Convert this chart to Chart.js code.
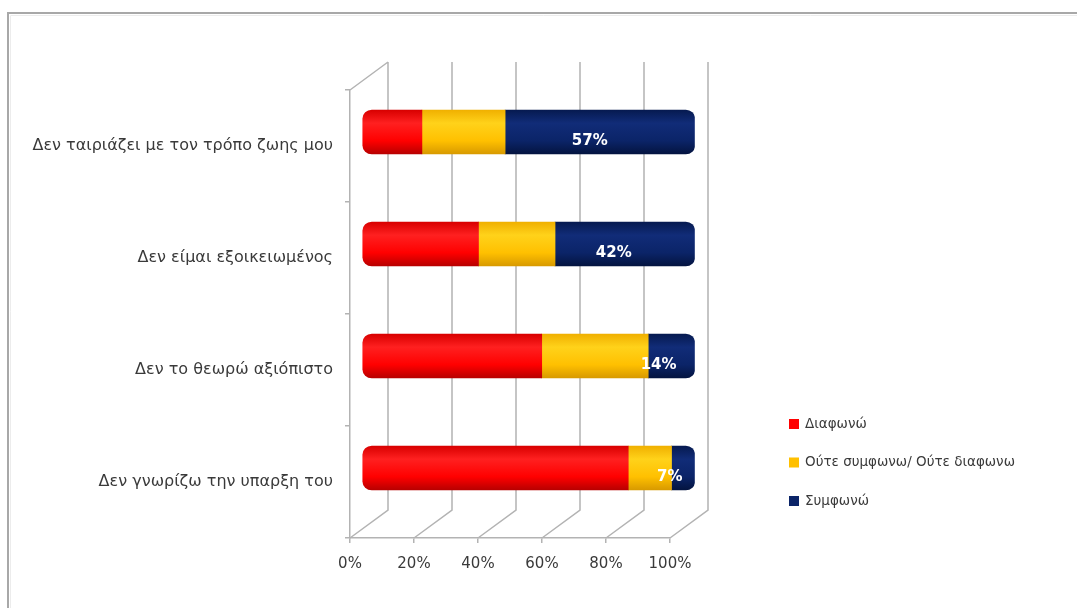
<!DOCTYPE html>
<html lang="el">
<head>
<meta charset="UTF-8">
<title>Chart</title>
<script src="https://cdn.jsdelivr.net/npm/chart.js@4.4.0/dist/chart.umd.min.js"></script>
<style>
    html, body { margin: 0; padding: 0; background: #fff; }
</style>
</head>
<body>
<canvas id="chart" width="1077" height="608"></canvas>
<script>
    // data (percent of respondents, each row sums to 100)
    var categories = ['Δεν ταιριάζει με τον τρόπο ζωης μου', 'Δεν είμαι εξοικειωμένος', 'Δεν το θεωρώ αξιόπιστο', 'Δεν γνωρίζω την υπαρξη του'];
    var seriesNames = ['Διαφωνώ', 'Ούτε συμφωνω/ Ούτε διαφωνω', 'Συμφωνώ'];
    var diafono = [18, 35, 54, 80];
    var oute = [25, 23, 32, 13];
    var symfono = [57, 42, 14, 7];
    var xTicks = [0, 20, 40, 60, 80, 100];

    var textColor = '#3a3a3a';
    var gridColor = '#b3b3b3';
    var fontFamily = '"DejaVu Sans", sans-serif';
    var depthX = 38, depthY = -28;
    var barHalf = 22;
    var stretch = 1.04;

    // vertical gradient so every bar looks like a cylinder
    function cylinder(c0, c1, c2, c3) {
        return function (c) {
            var chart = c.chart;
            var y = chart.scales.y;
            if (!y || c.dataIndex === undefined || !chart.chartArea) return c2;
            var mid = y.getPixelForValue(c.dataIndex);
            var g = chart.ctx.createLinearGradient(0, mid - barHalf, 0, mid + barHalf);
            g.addColorStop(0, c0);
            g.addColorStop(0.3, c1);
            g.addColorStop(0.7, c2);
            g.addColorStop(1, c3);
            return g;
        };
    }

    var colors = ['#ff0000', '#ffc000', '#0b2468'];

    var wallPlugin = {
        id: 'wall',
        beforeDraw: function (chart) {
            var ctx = chart.ctx;
            ctx.save();
            ctx.strokeStyle = '#a8a8a8';
            ctx.lineWidth = 2;
            ctx.beginPath();
            ctx.moveTo(8, 608);
            ctx.lineTo(8, 13);
            ctx.lineTo(1077, 13);
            ctx.stroke();
            ctx.strokeStyle = '#ececec';
            ctx.lineWidth = 1;
            ctx.beginPath();
            ctx.moveTo(10.5, 608);
            ctx.lineTo(10.5, 15.5);
            ctx.lineTo(1077, 15.5);
            ctx.stroke();
            ctx.restore();
        },
        beforeDatasetsDraw: function (chart) {
            var ctx = chart.ctx, a = chart.chartArea, x = chart.scales.x;
            ctx.save();
            ctx.strokeStyle = gridColor;
            ctx.lineWidth = 1.5;
            ctx.beginPath();
            xTicks.forEach(function (v) {
                var px = x.getPixelForValue(v);
                ctx.moveTo(px + depthX, a.top + depthY);
                ctx.lineTo(px + depthX, a.bottom + depthY);
                ctx.lineTo(px, a.bottom);
            });
            ctx.moveTo(a.left, a.top);
            ctx.lineTo(a.left + depthX, a.top + depthY);
            ctx.stroke();
            ctx.restore();
            // push the bars back to the middle of the depth
            ctx.save();
            ctx.translate(362 - a.left * stretch, depthY / 2);
            ctx.scale(stretch, 1);
        },
        afterDatasetsDraw: function (chart) {
            var ctx = chart.ctx;
            ctx.restore();
            var meta = chart.getDatasetMeta(2);
            ctx.save();
            ctx.fillStyle = '#ffffff';
            ctx.font = 'bold 15px ' + fontFamily;
            ctx.textAlign = 'center';
            ctx.textBaseline = 'middle';
            meta.data.forEach(function (el, i) {
                var cx = (el.x + el.base) / 2 + 11;
                ctx.fillText(symfono[i] + '%', cx, el.y - 5);
            });
            ctx.restore();
        },
        afterDraw: function (chart) {
            var ctx = chart.ctx;
            ctx.save();
            ctx.font = '13.5px ' + fontFamily;
            ctx.textBaseline = 'middle';
            ctx.textAlign = 'left';
            seriesNames.forEach(function (name, i) {
                var cy = 424 + i * 38.5;
                ctx.fillStyle = colors[i];
                ctx.fillRect(789, cy - 5, 10, 10);
                ctx.fillStyle = textColor;
                ctx.fillText(name, 805, cy);
            });
            ctx.restore();
        }
    };

    var common = { barThickness: 44, borderSkipped: false, borderWidth: 0 };

    new Chart('chart', {
        type: 'bar',
        data: {
            labels: categories,
            datasets: [
                Object.assign({
                    label: seriesNames[0], data: diafono,
                    backgroundColor: cylinder('#d80000', '#ff2020', '#ff0000', '#b80000'),
                    borderRadius: { topLeft: 9, bottomLeft: 9, topRight: 0, bottomRight: 0 }
                }, common),
                Object.assign({
                    label: seriesNames[1], data: oute,
                    backgroundColor: cylinder('#f0b000', '#ffd21a', '#ffc000', '#d89a00'),
                    borderRadius: 0
                }, common),
                Object.assign({
                    label: seriesNames[2], data: symfono,
                    backgroundColor: cylinder('#061a50', '#112c78', '#0b2468', '#041440'),
                    borderRadius: { topLeft: 0, bottomLeft: 0, topRight: 9, bottomRight: 9 }
                }, common)
            ]
        },
        options: {
            responsive: false,
            animation: false,
            indexAxis: 'y',
            layout: { padding: { top: 90, right: 407, bottom: 0, left: 0 } },
            plugins: {
                legend: { display: false },
                tooltip: { enabled: false }
            },
            scales: {
                x: {
                    stacked: true,
                    min: 0,
                    max: 100,
                    afterBuildTicks: function (s) {
                        s.ticks = xTicks.map(function (v) { return { value: v }; });
                    },
                    afterFit: function (s) { s.height = 70; },
                    grid: { drawOnChartArea: false, tickLength: 5, color: gridColor, lineWidth: 1.5 },
                    border: { color: gridColor, width: 1.5 },
                    ticks: {
                        callback: function (v) { return v + '%'; },
                        padding: 12,
                        maxRotation: 0,
                        color: textColor,
                        font: { family: fontFamily, size: 15 }
                    }
                },
                y: {
                    stacked: true,
                    afterFit: function (s) { s.width = 350; },
                    grid: { drawOnChartArea: false, tickLength: 5, color: gridColor, lineWidth: 1.5 },
                    border: { color: gridColor, width: 1.5 },
                    ticks: {
                        padding: 12,
                        color: textColor,
                        font: { family: fontFamily, size: 16 }
                    }
                }
            }
        },
        plugins: [wallPlugin]
    });
</script>
</body>
</html>
